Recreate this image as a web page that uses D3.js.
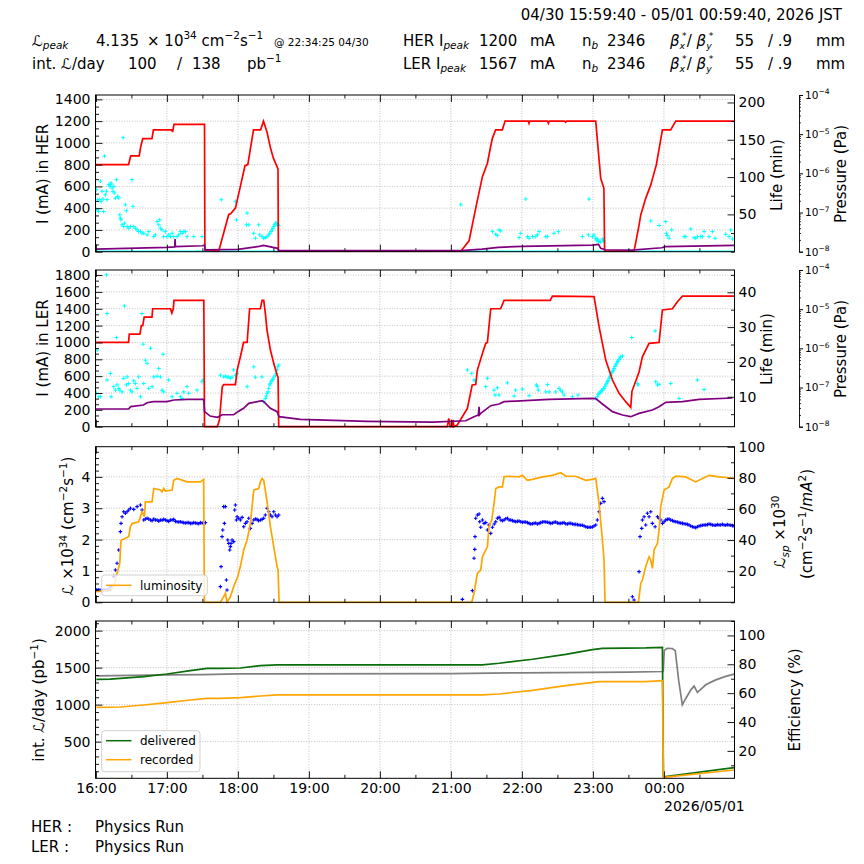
<!DOCTYPE html>
<html><head><meta charset="utf-8">
<script src="https://cdn.jsdelivr.net/npm/d3@7"></script>
<style>body{margin:0;background:#fff} svg{display:block} text{font-family:"DejaVu Sans",sans-serif}</style>
</head><body><svg id="c" width="864" height="864"></svg>
<script>
// ---------------- DATA (time in hours since 04/30 00:00, JST) ----------------
const headerDate = "04/30 15:59:40 - 05/01 00:59:40, 2026 JST";
const lumiPeak = "4.135", lumiPeakTime = "@ 22:34:25 04/30";
const intLumiDay = ["100", "138"];
const herPeak = "1200", lerPeak = "1567", nBunch = "2346", betaX = "55", betaY = ".9";
const runModes = [["HER :", "Physics Run"], ["LER :", "Physics Run"]];

const herCurrent = [[16.0,800],[16.46,800],[16.49,880],[16.61,880],[16.63,960],[16.66,1040],[16.79,1040],[16.81,1120],[17.07,1120],[17.08,1100],[17.10,1170],[17.53,1170],[17.535,15],[17.73,5],[17.87,340],[17.90,350],[17.965,400],[18.035,600],[18.10,790],[18.14,800],[18.18,960],[18.22,1120],[18.32,1120],[18.36,1200],[18.41,1100],[18.46,950],[18.50,860],[18.565,760],[18.57,5],[21.14,5],[21.256,100],[21.35,400],[21.444,690],[21.514,813],[21.56,967],[21.585,1044],[21.63,1120],[21.725,1120],[21.763,1200],[22.09,1200],[22.10,1180],[22.11,1200],[22.36,1200],[22.373,1180],[22.385,1200],[22.60,1200],[22.617,1190],[22.63,1200],[23.04,1200],[23.11,675],[23.155,583],[23.165,5],[23.58,5],[23.65,245],[23.674,338],[23.744,490],[23.815,614],[23.894,800],[23.979,1120],[24.096,1120],[24.167,1200],[24.99,1200]];
const herPressure = [[16.0,1.17e-8],[17.0,1.29e-8],[17.11,1.33e-8],[17.115,2.1e-8],[17.12,1.34e-8],[17.5,1.42e-8],[17.53,1.48e-8],[17.54,1.12e-8],[18.0,1.15e-8],[18.3,1.37e-8],[18.36,1.45e-8],[18.56,1.22e-8],[18.58,1.06e-8],[21.14,1.06e-8],[21.44,1.17e-8],[21.67,1.29e-8],[22.0,1.37e-8],[22.99,1.48e-8],[23.08,1.54e-8],[23.11,1.22e-8],[23.18,1.12e-8],[23.55,1.10e-8],[23.97,1.26e-8],[24.02,1.34e-8],[24.99,1.45e-8]];
const herLifeFloor = [[15.995,0.6],[24.99,0.6]];
const herLife = [[16.007,83.1],[16.016,56.2],[16.026,69.7],[16.040,53.9],[16.054,69.7],[16.063,94.4],[16.073,67.4],[16.087,80.9],[16.101,70.6],[16.110,53.9],[16.120,128.1],[16.134,76.4],[16.148,80.9],[16.157,69.7],[16.181,89.9],[16.195,87.6],[16.204,89.9],[16.214,92.1],[16.228,85.4],[16.242,80.9],[16.251,87.6],[16.261,78.7],[16.275,71.9],[16.289,96.6],[16.308,74.2],[16.322,71.9],[16.336,49.4],[16.345,44.9],[16.354,42.7],[16.369,36.0],[16.383,152.8],[16.392,33.7],[16.401,38.2],[16.415,62.9],[16.430,54.8],[16.439,33.7],[16.462,31.5],[16.486,33.7],[16.509,96.6],[16.523,60.7],[16.533,33.7],[16.556,31.5],[16.580,29.2],[16.603,27.0],[16.627,27.0],[16.650,24.7],[16.674,24.7],[16.721,22.5],[16.744,27.0],[16.815,20.2],[16.838,22.5],[16.862,40.4],[16.885,36.0],[16.899,42.7],[16.908,31.5],[16.932,29.2],[16.955,20.2],[16.979,27.0],[17.002,20.2],[17.026,22.5],[17.049,20.2],[17.073,24.7],[17.096,20.2],[17.143,20.2],[17.167,22.5],[17.190,27.0],[17.214,24.7],[17.237,27.0],[17.261,27.0],[17.284,20.2],[17.378,20.2],[17.495,20.2],[17.767,69.7],[17.965,67.4],[17.979,42.7],[18.129,51.7],[18.120,36.0],[18.153,36.0],[18.223,24.7],[18.246,18.0],[18.293,36.0],[18.308,22.5],[18.340,20.2],[18.364,18.0],[18.387,18.9],[18.411,20.2],[18.434,22.5],[18.448,24.7],[18.467,27.0],[18.481,29.2],[18.495,31.5],[18.505,33.7],[18.514,36.0],[18.528,38.2],[18.542,38.2],[18.552,36.0],[18.561,36.0],[18.575,35.1],[21.139,62.9],[21.585,27.0],[21.632,23.4],[21.655,21.6],[21.679,29.2],[21.702,27.9],[21.960,18.9],[21.984,24.7],[22.054,70.6],[22.078,20.2],[22.101,18.0],[22.148,20.2],[22.195,20.2],[22.218,22.5],[22.242,27.0],[22.336,20.2],[22.359,20.2],[22.453,24.7],[22.514,27.0],[22.852,20.2],[22.937,22.5],[22.946,70.6],[22.993,20.2],[23.016,22.5],[23.040,18.0],[23.049,15.7],[23.063,17.1],[23.077,13.5],[23.087,14.4],[23.110,12.6],[23.134,17.1],[23.143,15.7],[23.157,14.4],[23.815,41.3],[23.932,35.1],[24.026,40.4],[24.035,24.7],[24.049,21.6],[24.073,18.0],[24.110,29.2],[24.284,20.2],[24.308,20.2],[24.378,30.6],[24.425,18.9],[24.448,18.0],[24.472,20.2],[24.519,20.2],[24.542,20.2],[24.566,27.0],[24.636,20.2],[24.683,27.0],[24.721,18.0],[24.871,23.4],[24.918,20.2],[24.942,29.2],[24.965,17.1]];

const lerCurrent = [[16.0,1000],[16.46,1000],[16.47,1100],[16.62,1100],[16.64,1200],[16.66,1200],[16.68,1300],[16.79,1300],[16.80,1400],[17.05,1400],[17.07,1350],[17.09,1400],[17.10,1500],[17.52,1500],[17.53,0],[17.71,0],[17.74,80],[17.78,475],[17.80,500],[17.965,500],[17.99,672],[18.035,830],[18.08,1000],[18.13,1000],[18.165,1400],[18.317,1400],[18.34,1500],[18.364,1500],[18.387,1345],[18.41,1147],[18.458,910],[18.505,752],[18.552,613],[18.566,585],[18.575,0],[20.95,0],[20.97,100],[20.99,0],[21.02,0],[21.03,80],[21.04,0],[21.09,20],[21.232,218],[21.30,495],[21.35,500],[21.373,672],[21.444,870],[21.49,989],[21.514,1000],[21.561,1400],[21.70,1400],[21.749,1500],[22.40,1500],[22.43,1550],[23.016,1545],[23.087,1187],[23.181,791],[23.275,554],[23.369,396],[23.462,297],[23.533,230],[23.55,420],[23.60,534],[23.65,650],[23.697,830],[23.791,989],[23.932,1000],[23.979,1385],[24.12,1400],[24.19,1483],[24.261,1550],[24.99,1550]];
const lerPressure = [[16.0,2.83e-8],[16.46,2.83e-8],[16.49,3.25e-8],[16.67,3.57e-8],[16.72,4.1e-8],[16.81,4.35e-8],[17.0,4.35e-8],[17.1,4.8e-8],[17.29,4.99e-8],[17.52,4.99e-8],[17.53,2.42e-8],[17.61,1.87e-8],[17.71,1.73e-8],[17.78,2.02e-8],[17.94,2.02e-8],[18.0,2.42e-8],[18.08,2.94e-8],[18.153,3.95e-8],[18.34,4.61e-8],[18.364,4.35e-8],[18.458,2.94e-8],[18.552,2.42e-8],[18.58,1.8e-8],[18.88,1.54e-8],[19.82,1.37e-8],[20.74,1.31e-8],[21.209,1.42e-8],[21.326,1.8e-8],[21.387,1.99e-8],[21.397,3.24e-8],[21.401,1.99e-8],[21.42,2.19e-8],[21.561,3.44e-8],[21.679,3.79e-8],[21.749,4.35e-8],[21.913,4.52e-8],[22.383,4.99e-8],[22.993,5.29e-8],[23.04,5.2e-8],[23.134,3.79e-8],[23.275,2.42e-8],[23.416,1.99e-8],[23.533,1.8e-8],[23.65,2.19e-8],[23.838,2.66e-8],[23.932,3.24e-8],[24.026,4.18e-8],[24.261,4.35e-8],[24.495,4.99e-8],[24.965,5.4e-8]];
const lerLife = [[16.007,11.0],[16.016,23.4],[16.040,10.0],[16.063,10.0],[16.148,45.0],[16.157,33.9],[16.157,14.8],[16.204,16.7],[16.214,10.0],[16.251,12.9],[16.275,11.9],[16.289,27.0],[16.298,13.4],[16.322,12.4],[16.336,11.9],[16.369,11.4],[16.392,15.3],[16.401,36.1],[16.430,13.4],[16.439,15.7],[16.462,13.8],[16.486,11.9],[16.509,11.4],[16.533,14.6],[16.556,13.8],[16.580,12.4],[16.603,15.7],[16.627,10.0],[16.650,33.9],[16.664,25.1],[16.674,13.8],[16.697,20.5],[16.721,19.6],[16.744,12.4],[16.768,23.9],[16.791,12.9],[16.815,15.7],[16.862,15.9],[16.885,18.1],[16.908,15.7],[16.932,11.9],[16.946,22.2],[16.955,11.4],[17.026,14.8],[17.073,10.0],[17.143,11.0],[17.190,10.0],[17.214,9.5],[17.237,11.4],[17.284,12.9],[17.307,11.0],[17.425,11.9],[17.495,14.3],[17.509,14.8],[17.753,16.2],[17.800,15.7],[17.824,15.9],[17.847,15.6],[17.871,15.7],[17.894,15.3],[17.918,15.6],[17.941,17.7],[17.965,16.2],[17.988,16.7],[18.129,12.9],[18.223,18.6],[18.246,15.6],[18.340,15.7],[18.364,8.6],[18.387,9.5],[18.401,10.2],[18.411,11.0],[18.425,11.4],[18.434,12.4],[18.448,13.4],[18.458,13.8],[18.467,14.3],[18.481,14.8],[18.495,15.0],[18.505,15.6],[18.528,16.2],[18.542,16.7],[18.552,17.7],[18.561,18.6],[18.575,19.1],[21.232,17.7],[21.293,16.7],[21.326,14.8],[21.340,14.6],[21.491,12.9],[21.514,15.3],[21.608,11.9],[21.622,10.5],[21.655,12.6],[21.679,10.5],[21.796,14.0],[21.890,10.2],[21.913,11.9],[22.007,12.2],[22.101,10.3],[22.204,13.4],[22.218,12.9],[22.232,11.9],[22.336,11.4],[22.359,13.5],[22.383,11.4],[22.476,11.4],[22.523,12.4],[22.547,11.9],[22.570,11.4],[22.594,10.5],[22.711,10.0],[22.791,10.5],[23.040,9.5],[23.063,10.0],[23.075,10.6],[23.087,11.0],[23.098,11.1],[23.110,11.4],[23.122,11.8],[23.134,11.9],[23.146,12.3],[23.157,12.4],[23.169,12.9],[23.181,13.4],[23.193,13.9],[23.204,14.3],[23.216,14.7],[23.228,15.3],[23.240,15.7],[23.251,16.2],[23.263,16.8],[23.275,17.2],[23.287,17.6],[23.298,18.1],[23.310,18.7],[23.322,19.1],[23.334,19.5],[23.345,20.1],[23.357,20.3],[23.369,20.7],[23.381,21.1],[23.392,21.5],[23.416,21.7],[23.547,27.0],[23.627,13.8],[23.636,13.4],[23.876,28.9],[23.885,14.3],[23.909,13.4],[23.932,13.6],[24.096,13.8],[24.214,9.5],[24.472,14.8],[24.566,12.1]];

const luminosity = [[16.007,0.34],[16.204,0.39],[16.251,0.50],[16.298,0.92],[16.336,1.24],[16.354,1.98],[16.415,2.04],[16.462,2.09],[16.486,2.41],[16.509,2.51],[16.603,2.57],[16.650,2.89],[16.683,2.73],[16.697,3.20],[16.791,3.20],[16.815,3.63],[16.908,3.58],[16.932,3.52],[16.955,3.63],[16.979,3.55],[17.073,3.58],[17.096,3.89],[17.143,3.95],[17.284,3.84],[17.471,3.84],[17.518,3.92],[17.528,0],[17.753,0],[17.800,0.18],[17.824,0.29],[17.847,0],[17.894,0.18],[17.941,0.50],[17.998,0.82],[18.035,1.14],[18.082,1.67],[18.129,1.98],[18.176,2.51],[18.223,3.58],[18.293,3.63],[18.317,3.84],[18.340,3.95],[18.364,3.89],[18.411,3.20],[18.458,2.41],[18.505,1.77],[18.552,1.14],[18.566,1.03],[18.580,0],[21.293,0],[21.326,0.29],[21.373,0.92],[21.420,1.03],[21.444,1.45],[21.514,1.77],[21.537,2.41],[21.575,2.62],[21.608,3.15],[21.632,3.63],[21.679,3.68],[21.725,3.68],[21.749,4.00],[21.819,4.02],[21.960,4.00],[22.007,4.05],[22.078,3.89],[22.148,3.92],[22.289,4.00],[22.430,4.05],[22.547,4.13],[22.617,4.02],[22.758,4.02],[22.899,3.89],[22.993,3.92],[23.040,3.95],[23.087,3.15],[23.134,1.98],[23.157,1.35],[23.171,0],[23.641,0],[23.674,0.60],[23.697,0.71],[23.744,1.14],[23.791,1.45],[23.815,1.35],[23.838,1.08],[23.862,1.67],[23.909,1.88],[23.932,2.30],[23.956,3.05],[24.003,3.58],[24.073,3.68],[24.120,3.95],[24.167,4.02],[24.308,4.00],[24.448,3.84],[24.542,3.95],[24.636,4.05],[24.777,4.00],[24.871,3.98],[24.988,3.95]];
const specificLumi = [[16.007,7.9],[16.03,7.9],[16.040,7.9],[16.06,7.7],[16.087,7.5],[16.11,7.9],[16.13,8.1],[16.157,7.9],[16.18,8.3],[16.204,10.1],[16.251,16.5],[16.275,20.8],[16.298,25.1],[16.322,33.6],[16.345,45.4],[16.354,50.7],[16.369,55.0],[16.392,58.2],[16.415,57.2],[16.439,58.2],[16.462,59.3],[16.486,60.4],[16.533,59.7],[16.580,61.5],[16.627,62.5],[16.650,59.3],[16.674,52.9],[16.697,53.5],[16.721,54.0],[16.744,53.5],[16.768,52.9],[16.791,52.5],[16.815,53.5],[16.838,52.9],[16.862,52.9],[16.885,52.2],[16.908,52.9],[16.932,52.7],[16.955,53.3],[16.979,52.9],[17.002,52.5],[17.026,52.0],[17.049,52.9],[17.073,52.9],[17.096,53.3],[17.12,52.0],[17.143,51.8],[17.167,51.6],[17.190,51.8],[17.214,51.4],[17.237,51.2],[17.26,51.0],[17.284,51.2],[17.308,51.2],[17.331,50.7],[17.354,50.7],[17.378,51.2],[17.401,51.0],[17.425,50.7],[17.448,50.5],[17.471,51.2],[17.495,51.0],[17.518,50.7],[17.542,51.2],[17.753,10.1],[17.763,22.9],[17.777,42.2],[17.787,46.5],[17.800,61.5],[17.810,50.7],[17.824,61.5],[17.838,14.3],[17.847,7.9],[17.857,40.0],[17.871,37.9],[17.885,33.6],[17.894,35.8],[17.904,37.9],[17.918,40.0],[17.941,39.0],[17.955,59.3],[17.965,62.5],[17.979,52.9],[17.988,55.0],[18.012,54.0],[18.035,52.9],[18.059,54.6],[18.082,48.6],[18.106,50.7],[18.129,51.8],[18.153,54.0],[18.176,47.5],[18.200,50.7],[18.223,52.9],[18.246,53.5],[18.270,53.3],[18.29,52.5],[18.317,52.9],[18.34,53.3],[18.364,54.0],[18.387,56.1],[18.411,60.4],[18.434,58.2],[18.458,56.1],[18.481,55.0],[18.505,58.2],[18.528,56.1],[18.552,55.0],[18.575,56.1],[21.162,1.9],[21.303,7.5],[21.326,28.3],[21.336,34.0],[21.340,42.2],[21.350,54.0],[21.373,56.1],[21.397,56.7],[21.406,51.8],[21.420,48.2],[21.444,52.9],[21.467,50.7],[21.491,51.2],[21.514,46.5],[21.537,49.7],[21.561,44.3],[21.585,48.2],[21.61,50.3],[21.632,51.8],[21.655,54.0],[21.679,54.6],[21.702,52.9],[21.725,52.5],[21.749,52.9],[21.772,53.7],[21.796,54.0],[21.819,52.9],[21.843,52.9],[21.866,52.5],[21.890,52.2],[21.913,51.8],[21.937,52.0],[21.960,52.2],[21.984,51.8],[22.007,51.4],[22.031,51.6],[22.054,51.6],[22.078,51.2],[22.101,50.7],[22.124,50.3],[22.148,50.5],[22.171,50.7],[22.195,51.0],[22.218,50.3],[22.242,50.7],[22.265,51.2],[22.289,51.6],[22.312,51.8],[22.336,51.6],[22.359,51.4],[22.383,51.2],[22.406,50.7],[22.430,51.0],[22.453,51.4],[22.476,51.6],[22.500,51.0],[22.523,50.7],[22.547,50.7],[22.570,51.0],[22.594,51.2],[22.617,50.5],[22.641,50.3],[22.664,50.7],[22.688,50.7],[22.711,50.3],[22.735,50.1],[22.758,50.1],[22.782,49.9],[22.805,49.7],[22.829,49.5],[22.852,49.5],[22.876,49.0],[22.899,48.6],[22.923,48.2],[22.946,48.2],[22.969,48.2],[22.993,48.4],[23.016,49.0],[23.040,49.7],[23.063,52.9],[23.087,58.2],[23.110,63.6],[23.134,66.8],[23.157,64.7],[23.556,3.6],[23.580,1.5],[23.650,19.7],[23.664,42.2],[23.688,47.5],[23.697,52.9],[23.721,55.0],[23.744,49.7],[23.768,57.2],[23.791,55.0],[23.815,58.2],[23.838,50.7],[23.876,48.6],[23.909,55.0],[23.932,54.0],[23.956,52.9],[23.979,50.7],[24.003,51.8],[24.026,52.9],[24.049,53.3],[24.073,53.5],[24.096,52.9],[24.120,52.5],[24.143,52.0],[24.167,51.8],[24.190,51.6],[24.214,51.2],[24.237,51.0],[24.261,50.7],[24.284,50.5],[24.308,50.3],[24.331,50.1],[24.354,49.7],[24.378,49.0],[24.401,48.6],[24.425,48.2],[24.448,48.0],[24.472,48.6],[24.495,49.0],[24.519,49.3],[24.542,49.5],[24.566,49.7],[24.589,49.7],[24.613,49.9],[24.636,50.3],[24.660,50.1],[24.683,49.7],[24.707,49.5],[24.730,49.5],[24.753,49.9],[24.777,49.7],[24.800,49.7],[24.824,50.1],[24.847,49.7],[24.871,49.5],[24.894,49.9],[24.918,49.7],[24.941,49.5],[24.965,49.3],[24.988,49.0]];

const delivered = [[16.007,1342],[16.2,1345],[16.345,1356],[16.674,1378],[17.002,1414],[17.331,1459],[17.566,1491],[17.75,1491],[18.035,1495],[18.317,1527],[18.552,1536],[21.3,1536],[21.444,1538],[21.679,1559],[22.148,1613],[22.617,1680],[22.993,1743],[23.134,1761],[23.744,1766],[23.979,1775],[23.993,27],[24.026,29],[24.988,149]];
const recorded = [[16.007,964],[16.345,968],[16.674,995],[17.002,1027],[17.331,1063],[17.566,1086],[17.75,1086],[18.035,1095],[18.317,1117],[18.552,1131],[21.3,1131],[21.444,1132],[21.679,1144],[22.148,1194],[22.617,1257],[23.087,1311],[23.744,1311],[23.979,1324],[23.993,18],[24.026,20],[24.988,117]];
const efficiency = [[16.007,72.0],[17.0,72.7],[17.5,72.9],[18.0,73.4],[21.0,73.6],[22.0,74.1],[23.5,74.6],[23.99,75.0],[24.005,89.5],[24.026,90.5],[24.05,91.1],[24.12,90.9],[24.16,89.4],[24.21,68.1],[24.26,51.9],[24.31,56.5],[24.38,62.3],[24.425,64.9],[24.472,60.5],[24.59,65.8],[24.73,69.2],[24.87,71.6],[24.99,73.2]];

// ---------------- SETUP ----------------
const FONT = "DejaVu Sans";
const svg = d3.select("#c");
svg.append("rect").attr("width", 864).attr("height", 864).attr("fill", "#fff");
const base = new Date(2026, 3, 30, 0, 0, 0).getTime();
const T = h => new Date(base + h * 3600e3);
const XL = 95.5, XR = 734.5;
const x = d3.scaleTime().domain([T(15 + 59/60 + 40/3600), T(24 + 59/60 + 40/3600)]).range([XL, XR]);
const hourTicks = x.ticks(d3.timeHour.every(1));
const halfTicks = x.ticks(d3.timeMinute.every(30)).filter(d => d.getMinutes() !== 0);

function rich(sel, parts, size) {
  let shift = 0;
  parts.forEach(p => {
    const ts = sel.append("tspan").text(p.t);
    const target = p.sup ? -0.42 * size : p.sub ? 0.26 * size : 0;
    if (target - shift !== 0) ts.attr("dy", target - shift);
    shift = target;
    if (p.dx) ts.attr("dx", p.dx);
    if (p.sup || p.sub) ts.attr("font-size", size * (p.small || 0.7));
    if (p.it) ts.attr("font-style", "italic");
  });
  return sel;
}
function txt(g, xx, yy, parts, size, anchor, rot) {
  const t = g.append("text").attr("font-size", size).attr("fill", "#000")
    .attr("text-anchor", anchor || "start");
  if (rot) t.attr("transform", `translate(${xx},${yy}) rotate(-90)`);
  else t.attr("x", xx).attr("y", yy);
  if (typeof parts === "string") t.text(parts); else rich(t, parts, size);
  return t;
}
const plus = s => `M${-s},0H${s}M0,${-s}V${s}`;
const range = (a, b, s) => d3.range(a, b + s * 0.01, s).map(v => +v.toFixed(6));

let clipId = 0;
function panel(top, bottom, yL, lMajor, lMinor, yR, rMajor, rMinor, lFmt, xLabels) {
  const root = svg.append("g");
  const grid = root.append("g");
  grid.selectAll("line.v").data(hourTicks).join("line").attr("class", "v")
    .attr("x1", d => x(d)).attr("x2", d => x(d)).attr("y1", top).attr("y2", bottom);
  grid.selectAll("line.h").data(lMajor).join("line").attr("class", "h")
    .attr("x1", XL).attr("x2", XR).attr("y1", d => yL(d)).attr("y2", d => yL(d));
  grid.selectAll("line").attr("stroke", "#b0b0b0").attr("stroke-width", 0.8).attr("stroke-dasharray", "1,1.6");
  const id = "clip" + (clipId++);
  root.append("clipPath").attr("id", id).append("rect")
    .attr("x", XL).attr("y", top - 1.5).attr("width", XR - XL).attr("height", bottom - top + 3);
  const data = root.append("g").attr("clip-path", `url(#${id})`);
  const axes = root.append("g");
  const ax = (axis, tx, ty) => axes.append("g").attr("transform", `translate(${tx},${ty})`).call(axis)
    .call(s => s.select(".domain").remove())
    .call(s => s.selectAll("text").attr("font-size", 14).attr("font-family", FONT).attr("fill", "#000"))
    .call(s => s.selectAll("line").attr("stroke-width", 0.9));
  ax(d3.axisLeft(yL).tickValues(lMajor).tickSize(-7).tickPadding(5).tickFormat(lFmt), XL, 0);
  ax(d3.axisLeft(yL).tickValues(lMinor.filter(v => !lMajor.includes(v))).tickSize(-3.5).tickFormat(""), XL, 0);
  ax(d3.axisRight(yR).tickValues(rMajor).tickSize(-7).tickPadding(4).tickFormat(d3.format("d")), XR, 0);
  ax(d3.axisRight(yR).tickValues(rMinor.filter(v => !rMajor.includes(v))).tickSize(-3.5).tickFormat(""), XR, 0);
  ax(d3.axisBottom(x).tickValues(hourTicks).tickSize(-7).tickPadding(5).tickFormat(xLabels ? d3.timeFormat("%H:%M") : ""), 0, bottom);
  ax(d3.axisBottom(x).tickValues(halfTicks).tickSize(-3.5).tickFormat(""), 0, bottom);
  ax(d3.axisTop(x).tickValues(hourTicks).tickSize(-7).tickFormat(""), 0, top);
  ax(d3.axisTop(x).tickValues(halfTicks).tickSize(-3.5).tickFormat(""), 0, top);
  axes.append("rect").attr("x", XL).attr("y", top).attr("width", XR - XL).attr("height", bottom - top)
    .attr("fill", "none").attr("stroke", "#000").attr("stroke-width", 1);
  return { root, data, axes };
}
function pressureAxis(g, yP) {
  const gp = g.append("g").attr("transform", "translate(799,0)");
  const decades = [1e-8, 1e-7, 1e-6, 1e-5, 1e-4];
  gp.call(d3.axisRight(yP).tickValues(decades).tickSize(4).tickPadding(2).tickFormat(d => "10"));
  gp.select(".domain").attr("stroke-width", 0.9);
  gp.selectAll(".tick text").attr("font-size", 10.5).attr("font-family", FONT).each(function (d) {
    const e = Math.round(Math.log10(d));
    d3.select(this).append("tspan").attr("dy", -4.5).attr("font-size", 7.5).text("−" + (-e));
  });
  const minors = [];
  decades.slice(0, 4).forEach(dd => { for (let k = 2; k <= 9; k++) minors.push(dd * k); });
  const gm = g.append("g").attr("transform", "translate(799,0)");
  gm.call(d3.axisRight(yP).tickValues(minors).tickSize(2).tickFormat(""));
  gm.select(".domain").remove();
  gm.selectAll("line").attr("stroke-width", 0.8);
}
const line = (xs, ys) => d3.line().x(d => xs(T(d[0]))).y(d => ys(d[1]));
const LW = 1.7;

// ---------------- PANEL 1: HER ----------------
{
  const top = 95, bottom = 251.7;
  const yL = d3.scaleLinear().domain([0, 1440]).range([bottom, top]);
  const yR = d3.scaleLinear().domain([0, 210]).range([bottom, top]);
  const yP = d3.scaleLog().domain([1e-8, 1e-4]).range([bottom, top]);
  const p = panel(top, bottom, yL, range(0, 1400, 200), range(0, 1440, 200/3), yR, [50, 100, 150, 200], range(0, 210, 25), d3.format("d"), false);
  p.data.append("path").datum(herLifeFloor).attr("d", line(x, yR)).attr("fill", "none").attr("stroke", "#00ffff").attr("stroke-width", 1.5);
  p.data.selectAll("path.pt").data(herLife).join("path").attr("class", "pt").attr("d", plus(2))
    .attr("transform", d => `translate(${x(T(d[0]))},${yR(d[1])})`).attr("stroke", "#00ffff").attr("stroke-width", 1);
  p.data.append("path").datum(herCurrent).attr("d", line(x, yL)).attr("fill", "none").attr("stroke", "#ff0000").attr("stroke-width", LW);
  p.data.append("path").datum(herPressure).attr("d", line(x, yP)).attr("fill", "none").attr("stroke", "#800080").attr("stroke-width", LW);
  pressureAxis(p.axes, yP);
  txt(svg, 48, 174, "I (mA) in HER", 15, "middle", true);
  txt(svg, 782, 175, "Life (min)", 15, "middle", true);
  txt(svg, 846, 174, "Pressure (Pa)", 15, "middle", true);
}
// ---------------- PANEL 2: LER ----------------
{
  const top = 270, bottom = 426.7;
  const yL = d3.scaleLinear().domain([0, 1860]).range([bottom, top]);
  const yR = d3.scaleLinear().domain([1.4, 46.4]).range([bottom, top]);
  const yP = d3.scaleLog().domain([1e-8, 1e-4]).range([bottom, top]);
  const p = panel(top, bottom, yL, range(0, 1800, 200), range(0, 1860, 200/3), yR, [10, 20, 30, 40], range(5, 45, 5), d3.format("d"), false);
  p.data.selectAll("path.pt").data(lerLife).join("path").attr("class", "pt").attr("d", plus(2))
    .attr("transform", d => `translate(${x(T(d[0]))},${yR(d[1])})`).attr("stroke", "#00ffff").attr("stroke-width", 1);
  p.data.append("path").datum(lerCurrent).attr("d", line(x, yL)).attr("fill", "none").attr("stroke", "#ff0000").attr("stroke-width", LW);
  p.data.append("path").datum(lerPressure).attr("d", line(x, yP)).attr("fill", "none").attr("stroke", "#800080").attr("stroke-width", LW);
  pressureAxis(p.axes, yP);
  txt(svg, 48, 348, "I (mA) in LER", 15, "middle", true);
  txt(svg, 772, 349, "Life (min)", 15, "middle", true);
  txt(svg, 846, 349, "Pressure (Pa)", 15, "middle", true);
}
// ---------------- PANEL 3: luminosity ----------------
{
  const top = 446.7, bottom = 602.3;
  const yL = d3.scaleLinear().domain([0, 4.962]).range([bottom, top]);
  const yR = d3.scaleLinear().domain([0, 100]).range([bottom, top]);
  const p = panel(top, bottom, yL, [0, 1, 2, 3, 4], range(0, 4.9, 0.2), yR, [20, 40, 60, 80, 100], range(0, 100, 10), d3.format("d"), false);
  p.data.selectAll("path.pt").data(specificLumi).join("path").attr("class", "pt").attr("d", plus(1.8))
    .attr("transform", d => `translate(${x(T(d[0]))},${yR(d[1])})`).attr("stroke", "#0000ff").attr("stroke-width", 1.1);
  p.data.append("path").datum(luminosity).attr("d", line(x, yL)).attr("fill", "none").attr("stroke", "#ffa500").attr("stroke-width", LW);
  const lg = p.axes.append("g");
  lg.append("rect").attr("x", 101.7).attr("y", 575).attr("width", 105.6).attr("height", 20.7).attr("rx", 3)
    .attr("fill", "#fff").attr("fill-opacity", 0.8).attr("stroke", "#cccccc").attr("stroke-width", 0.9);
  lg.append("line").attr("x1", 106).attr("x2", 131.5).attr("y1", 585.3).attr("y2", 585.3).attr("stroke", "#ffa500").attr("stroke-width", 1.5);
  txt(lg, 140, 589.5, "luminosity", 12);
  txt(svg, 73, 526, [{t:"ℒ",it:true},{t:" ×10"},{t:"34",sup:true},{t:" (cm"},{t:"−2",sup:true},{t:"s"},{t:"−1",sup:true},{t:")"}], 15, "middle", true);
  txt(svg, 785, 532, [{t:"ℒ",it:true},{t:"sp",sub:true,it:true},{t:" ×10"},{t:"30",sup:true}], 15, "middle", true);
  txt(svg, 812, 524, [{t:"(cm"},{t:"−2",sup:true},{t:"s"},{t:"−1",sup:true},{t:"/"},{t:"mA",it:true},{t:"2",sup:true},{t:")"}], 15, "middle", true);
}
// ---------------- PANEL 4: integrated luminosity ----------------
{
  const top = 621, bottom = 778.3;
  const yL = d3.scaleLinear().domain([5, 2130]).range([bottom, top]);
  const yR = d3.scaleLinear().domain([1, 110]).range([bottom, top]);
  const p = panel(top, bottom, yL, [500, 1000, 1500, 2000], range(100, 2100, 100), yR, [20, 40, 60, 80, 100], range(10, 110, 10), d3.format("d"), true);
  p.data.append("path").datum(efficiency).attr("d", line(x, yR)).attr("fill", "none").attr("stroke", "#808080").attr("stroke-width", LW);
  p.data.append("path").datum(delivered).attr("d", line(x, yL)).attr("fill", "none").attr("stroke", "#0a6e0a").attr("stroke-width", LW);
  p.data.append("path").datum(recorded).attr("d", line(x, yL)).attr("fill", "none").attr("stroke", "#ffa500").attr("stroke-width", LW);
  const lg = p.axes.append("g");
  lg.append("rect").attr("x", 101.7).attr("y", 730.7).attr("width", 98.3).attr("height", 41).attr("rx", 3)
    .attr("fill", "#fff").attr("fill-opacity", 0.8).attr("stroke", "#cccccc").attr("stroke-width", 0.9);
  lg.append("line").attr("x1", 106).attr("x2", 131.5).attr("y1", 740.7).attr("y2", 740.7).attr("stroke", "#0a6e0a").attr("stroke-width", 1.5);
  lg.append("line").attr("x1", 106).attr("x2", 131.5).attr("y1", 759.7).attr("y2", 759.7).attr("stroke", "#ffa500").attr("stroke-width", 1.5);
  txt(lg, 140, 745, "delivered", 12);
  txt(lg, 140, 764, "recorded", 12);
  txt(svg, 664, 811, "2026/05/01", 14);
  txt(svg, 44, 700, [{t:"int. "},{t:"ℒ",it:true},{t:"/day (pb"},{t:"−1",sup:true},{t:")"}], 15, "middle", true);
  txt(svg, 800, 700, "Efficiency (%)", 15, "middle", true);
}
// ---------------- HEADER ----------------
{
  const H = svg.append("g");
  const S = 15;
  txt(H, 842, 19.5, headerDate, S, "end");
  let y1 = 45.5, y2 = 68.5;
  txt(H, 32, y1, [{t:"ℒ",it:true},{t:"peak",sub:true,it:true}], S);
  txt(H, 96, y1, lumiPeak, S);
  txt(H, 147, y1, [{t:"× 10"},{t:"34",sup:true},{t:" cm"},{t:"−2",sup:true},{t:"s"},{t:"−1",sup:true}], S);
  txt(H, 274, y1, lumiPeakTime, 10.5);
  txt(H, 32, y2, [{t:"int. "},{t:"ℒ",it:true},{t:"/day"}], S);
  txt(H, 128, y2, intLumiDay[0], S);
  txt(H, 177, y2, "/", S);
  txt(H, 192, y2, intLumiDay[1], S);
  txt(H, 247, y2, [{t:"pb"},{t:"−1",sup:true}], S);
  [[y1, "HER", herPeak], [y2, "LER", lerPeak]].forEach(([yy, ring, pk]) => {
    txt(H, 403, yy, [{t: ring + " I"},{t:"peak",sub:true,it:true}], S);
    txt(H, 479, yy, pk, S);
    txt(H, 530, yy, "mA", S);
    txt(H, 582, yy, [{t:"n"},{t:"b",sub:true,it:true}], S);
    txt(H, 607, yy, nBunch, S);
    txt(H, 670, yy, [{t:"β",it:true},{t:"x",sub:true,it:true,small:0.62},{t:"*",sup:true,dx:-3,small:0.62},{t:"/ "},{t:"β",it:true},{t:"y",sub:true,it:true,small:0.62},{t:"*",sup:true,dx:-3,small:0.62}], S);
    txt(H, 735, yy, betaX, S);
    txt(H, 768, yy, "/ " + betaY, S);
    txt(H, 816, yy, "mm", S);
  });
  runModes.forEach((r, i) => {
    txt(H, 31, 831.5 + i * 20, r[0], S);
    txt(H, 95, 831.5 + i * 20, r[1], S);
  });
}
</script></body></html>
